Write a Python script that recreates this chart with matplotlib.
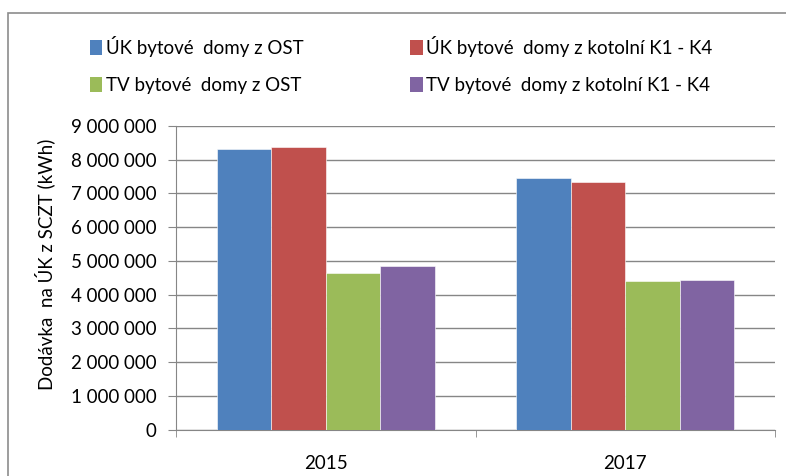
import matplotlib
matplotlib.use("Agg")
import matplotlib.pyplot as plt
from matplotlib.patches import Rectangle, Patch
import numpy as np

years = ["2015", "2017"]
series_names = [
    "ÚK bytové  domy z OST",
    "ÚK bytové  domy z kotolní K1 - K4",
    "TV bytové  domy z OST",
    "TV bytové  domy z kotolní K1 - K4",
]
uk_ost = [8320000, 7450000]
uk_kotolni = [8380000, 7350000]
tv_ost = [4640000, 4400000]
tv_kotolni = [4840000, 4450000]
colors = ["#4F81BD", "#C0504D", "#9BBB59", "#8064A2"]
yticks = list(range(0, 9000001, 1000000))
ylabel = "Dodávka  na ÚK z SCZT (kWh)"

plt.rcParams["font.family"] = ["Lato", "DejaVu Sans"]
fs = 13.5

fig = plt.figure(figsize=(7.86, 4.76), dpi=100)
ax = fig.add_axes([176 / 786, 1 - 429.7 / 476, (775 - 176) / 786, (429.7 - 126) / 476])

data = [uk_ost, uk_kotolni, tv_ost, tv_kotolni]
x = np.arange(len(years))
w = 1 / 5.5
for i, vals in enumerate(data):
    ax.bar(x + (i - 1.5) * w, vals, width=w, color=colors[i],
           edgecolor="white", linewidth=0.4, zorder=3)

ax.set_xlim(-0.5, 1.5)
ax.set_ylim(0, 9000000)
ax.set_yticks(yticks)
ax.set_yticklabels([f"{v:,}".replace(",", " ") for v in yticks], fontsize=fs)
ax.set_xticks(x)
ax.set_xticklabels(years, fontsize=fs)
ax.set_xticks([-0.5, 0.5, 1.5], minor=True)
ax.tick_params(axis="x", which="major", length=0, pad=18)
ax.tick_params(axis="x", which="minor", length=5, color="#868686", direction="out")
ax.tick_params(axis="y", length=5.8, color="#868686", pad=8)
ax.yaxis.grid(True, color="#868686", linewidth=1, zorder=0)
for s in ["top", "right"]:
    ax.spines[s].set_visible(False)
for s in ["left", "bottom"]:
    ax.spines[s].set_color("#868686")
ax.set_ylabel(ylabel, fontsize=fs)
ax.yaxis.set_label_coords(-0.202, 0.543)

handles = [Patch(facecolor=c) for c in colors]
order = [0, 2, 1, 3]
fig.legend([handles[i] for i in order], [series_names[i] for i in order],
           loc="upper left", bbox_to_anchor=(73 / 786, 1 - 19 / 476), ncol=2,
           frameon=False, fontsize=fs, handlelength=0.65, handleheight=0.85,
           handletextpad=0.2, columnspacing=5.7, labelspacing=1.05)

fig.patches.append(Rectangle((8 / 786, -0.05), 1.1, 1 - 13 / 476 + 0.05,
                             transform=fig.transFigure, fill=False,
                             edgecolor="#8c8c8c", linewidth=1.2))

fig.savefig("out.png", dpi=100)
